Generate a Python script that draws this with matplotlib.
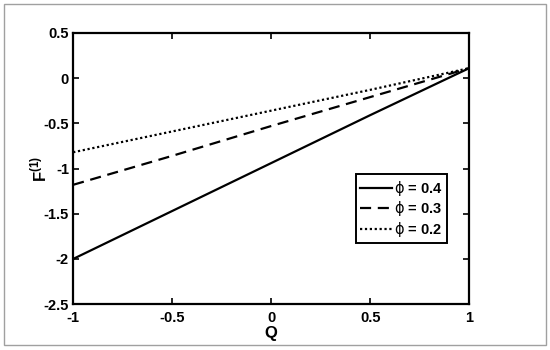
import numpy as np
import matplotlib
matplotlib.use('Agg')
from matplotlib import pyplot as plt
from matplotlib.patches import Rectangle

plt.rcParams['font.family'] = ['Liberation Sans', 'DejaVu Sans']
plt.rcParams['font.weight'] = 'bold'
plt.rcParams['mathtext.fontset'] = 'custom'
plt.rcParams['mathtext.rm'] = 'Liberation Sans:bold'
plt.rcParams['mathtext.bf'] = 'Liberation Sans:bold'
plt.rcParams['mathtext.it'] = 'DejaVu Sans:normal'

# values
q = [-1.0, -0.5, 0.0, 0.5, 1.0]
f_04 = [-2.0, -1.47, -0.94, -0.41, 0.11]
f_03 = [-1.18, -0.86, -0.53, -0.21, 0.11]
f_02 = [-0.82, -0.59, -0.36, -0.13, 0.11]
labels = [r'$\phi$ = 0.4', r'$\phi$ = 0.3', r'$\phi$ = 0.2']

fig = plt.figure(figsize=(5.5, 3.5), dpi=100)
fig.patches.append(Rectangle((4 / 550, 5 / 350), 542 / 550, 341 / 350,
                             transform=fig.transFigure, fill=False,
                             edgecolor='#a0a0a0', linewidth=1.0))
ax = fig.add_axes([0.133, 0.131, 0.72, 0.775])

ax.plot(q, f_04, color='black', linestyle='-', linewidth=1.6, label=labels[0])
ax.plot(q, f_03, color='black', linestyle=(0, (5, 3)), linewidth=1.6, label=labels[1])
ax.plot(q, f_02, color='black', linestyle=(0, (1, 1.2)), linewidth=1.6, label=labels[2])

ax.set_xlim(-1, 1)
ax.set_ylim(-2.5, 0.5)
ax.set_xticks([-1, -0.5, 0, 0.5, 1])
ax.set_xticklabels(['-1', '-0.5', '0', '0.5', '1'])
ax.set_yticks([-2.5, -2, -1.5, -1, -0.5, 0, 0.5])
ax.set_yticklabels(['-2.5', '-2', '-1.5', '-1', '-0.5', '0', '0.5'])
ax.tick_params(direction='in', top=True, right=True, length=4, width=1.2,
               labelsize=10.5, pad=3)
ax.tick_params(axis='x', pad=5)
for s in ax.spines.values():
    s.set_linewidth(1.6)

ax.set_xlabel('Q', fontsize=12, fontweight='bold', labelpad=1)
ax.set_ylabel(r'F$^{\mathbf{(1)}}$', fontsize=12, fontweight='bold')
ax.yaxis.set_label_coords(-0.06, 0.5)

leg = ax.legend(loc='lower right', bbox_to_anchor=(0.945, 0.225), fontsize=10.5,
                frameon=True, fancybox=False, framealpha=1, edgecolor='black',
                handlelength=2.2, handletextpad=0.15, borderpad=0.3,
                labelspacing=0.1, borderaxespad=0)
leg.get_frame().set_linewidth(1.4)

fig.savefig('out.png', dpi=100)
